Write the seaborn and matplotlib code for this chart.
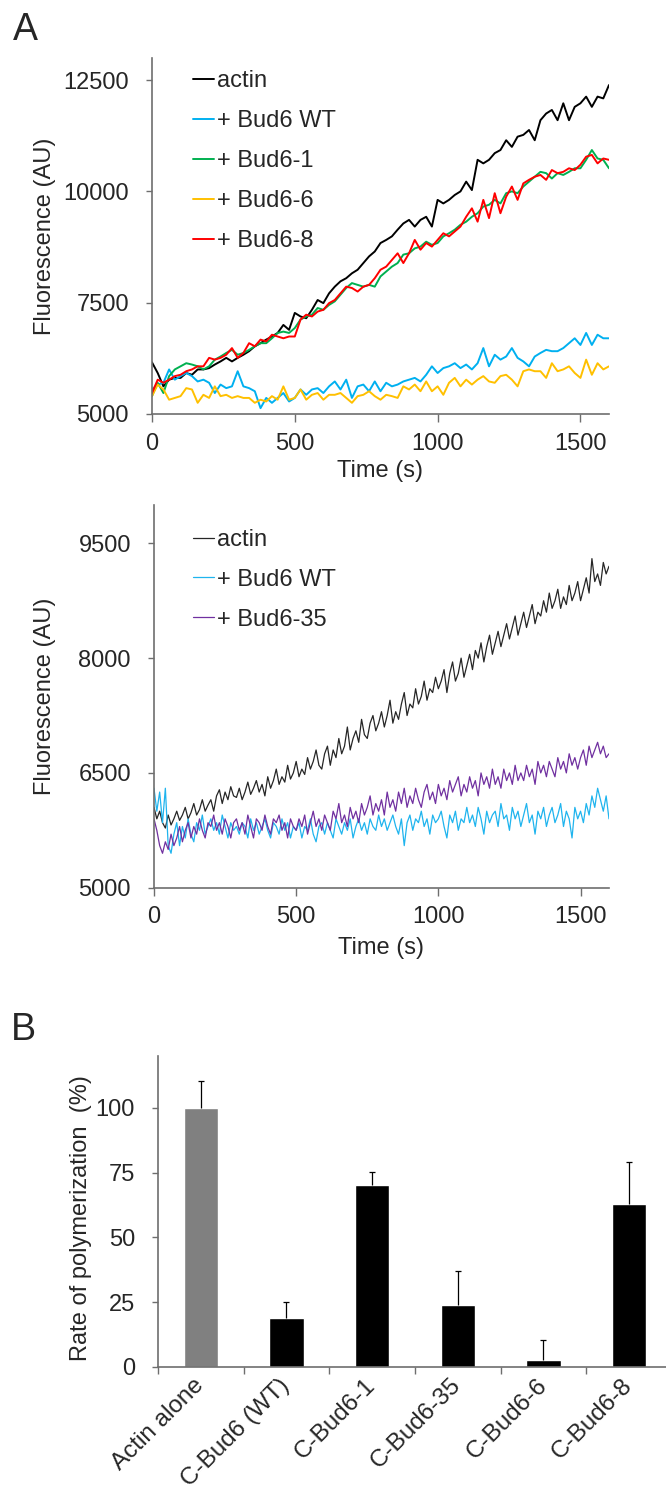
import numpy as np
import pandas as pd
import matplotlib
matplotlib.use('Agg')
import matplotlib.pyplot as plt
import seaborn as sns

# ---- Panel A (top): smoothed traces, one point every 20 s ----
time_a = np.arange(0, 1601, 20)
actin_a = [6160, 5920, 5620, 5770, 5810, 5810, 5920, 5880, 6000, 6000,
           6030, 6110, 6180, 6260, 6180, 6260, 6330, 6410, 6520, 6590,
           6670, 6740, 6820, 7000, 6890, 7270, 7190, 7150, 7340, 7560,
           7490, 7710, 7860, 7980, 8050, 8160, 8240, 8390, 8540, 8650,
           8840, 8910, 8990, 9140, 9280, 9360, 9210, 9360, 9430, 9210,
           9810, 9730, 9810, 9920, 10000, 10220, 10030, 10710, 10630, 10710,
           10860, 10930, 11150, 11000, 11230, 11270, 11380, 11150, 11600, 11750,
           11830, 11600, 11980, 11600, 11900, 11980, 12130, 11900, 12130, 12090,
           12390]
wt_a = [5550, 5660, 5700, 6000, 5770, 5850, 5920, 5850, 5730, 5770,
        5700, 5470, 5660, 5580, 5620, 5960, 5620, 5580, 5510, 5130,
        5360, 5250, 5360, 5470, 5280, 5360, 5550, 5430, 5550, 5580,
        5470, 5620, 5730, 5550, 5770, 5360, 5620, 5660, 5510, 5730,
        5510, 5700, 5620, 5660, 5730, 5770, 5810, 5730, 5880, 6070,
        5920, 6030, 6070, 6140, 6030, 6110, 6000, 6140, 6480, 6070,
        6330, 6220, 6290, 6480, 6260, 6180, 6070, 6290, 6370, 6440,
        6410, 6410, 6480, 6590, 6700, 6550, 6820, 6550, 6780, 6700,
        6700]
bud6_1_a = [5400, 5700, 5470, 5850, 6000, 6070, 6140, 6110, 6070, 6000,
            6070, 6220, 6290, 6370, 6440, 6330, 6370, 6440, 6520, 6590,
            6590, 6700, 6820, 6850, 6820, 6930, 7120, 7190, 7230, 7380,
            7340, 7450, 7530, 7680, 7830, 7940, 7900, 7860, 7900, 7860,
            8090, 8200, 8310, 8390, 8580, 8610, 8720, 8760, 8870, 8800,
            8840, 8990, 9060, 9140, 9250, 9320, 9430, 9510, 9660, 9700,
            9810, 9730, 9960, 10000, 9960, 10110, 10220, 10330, 10440, 10410,
            10290, 10410, 10370, 10440, 10520, 10520, 10710, 10930, 10740, 10710,
            10520]
bud6_6_a = [5400, 5660, 5550, 5320, 5360, 5400, 5580, 5550, 5250, 5430,
            5360, 5620, 5400, 5430, 5360, 5400, 5360, 5360, 5250, 5320,
            5280, 5400, 5320, 5620, 5320, 5360, 5550, 5320, 5430, 5470,
            5320, 5430, 5430, 5470, 5360, 5250, 5400, 5430, 5510, 5400,
            5320, 5430, 5400, 5360, 5620, 5550, 5660, 5510, 5730, 5510,
            5620, 5430, 5700, 5810, 5620, 5770, 5660, 5770, 5850, 5730,
            5700, 5850, 5880, 5770, 5620, 5960, 6000, 5960, 5960, 5810,
            6140, 5960, 6000, 6070, 5920, 5810, 6220, 5880, 6140, 6000,
            6070]
bud6_8_a = [5470, 5770, 5700, 5770, 5850, 5880, 5960, 6000, 6070, 6070,
            6260, 6220, 6260, 6330, 6480, 6260, 6370, 6590, 6520, 6670,
            6630, 6780, 6740, 6700, 6740, 6740, 7120, 7230, 7190, 7300,
            7340, 7490, 7560, 7710, 7860, 7830, 7750, 7860, 7900, 8050,
            8240, 8310, 8460, 8610, 8390, 8610, 8910, 8690, 8840, 8760,
            8910, 9060, 8990, 9100, 9210, 9430, 9620, 9320, 9810, 9400,
            9960, 9510, 9880, 10110, 9810, 10180, 10260, 10330, 10370, 10260,
            10480, 10410, 10440, 10520, 10480, 10600, 10780, 10820, 10630, 10740,
            10710]

# ---- Panel A (middle): raw traces, one point every 10 s ----
time_b = np.arange(0, 1601, 10)
actin_b = [6050, 5900, 6000, 5850, 5780, 5950, 5820, 5900, 6000, 5880,
           5950, 6050, 5900, 5980, 6100, 5950, 6020, 6150, 6000, 6080,
           6150, 6000, 6200, 6280, 6100, 6250, 6150, 6320, 6200, 6180,
           6300, 6150, 6250, 6380, 6220, 6300, 6400, 6250, 6350, 6200,
           6450, 6300, 6400, 6550, 6350, 6450, 6380, 6600, 6420, 6500,
           6650, 6450, 6550, 6480, 6700, 6550, 6650, 6800, 6600, 6550,
           6750, 6850, 6600, 6800, 6700, 6950, 6750, 6850, 7100, 6800,
           6950, 7050, 6900, 7200, 7000, 6950, 7150, 7250, 7050, 7150,
           7300, 7100, 7250, 7450, 7150, 7300, 7200, 7400, 7550, 7250,
           7400, 7350, 7600, 7400, 7500, 7700, 7450, 7600, 7550, 7750,
           7600, 7700, 7850, 7550, 7800, 7950, 7700, 7800, 8000, 7750,
           7900, 8050, 7850, 8100, 8000, 8200, 7950, 8150, 8300, 8050,
           8200, 8350, 8150, 8300, 8450, 8250, 8400, 8550, 8300, 8450,
           8600, 8400, 8550, 8700, 8450, 8600, 8550, 8750, 8600, 8850,
           8650, 8750, 8900, 8650, 8800, 8700, 8950, 8750, 8850, 9000,
           8750, 8900, 9050, 8850, 9300, 9000, 9100, 8950, 9250, 9100,
           9200]
wt_b = [6300, 6000, 6250, 5850, 6300, 5550, 5450, 5700, 5850, 5550,
        5800, 5650, 5900, 5700, 5600, 5850, 5750, 5950, 5700, 5800,
        5900, 5750, 5850, 5700, 5950, 5800, 5650, 5850, 5750, 5800,
        5700, 5850, 5800, 5650, 5900, 5750, 5850, 5700, 5800, 5900,
        5750, 5650, 5850, 5800, 5700, 5900, 5750, 5850, 5650, 5800,
        5750, 5850, 5650, 5800, 5750, 5900, 5700, 5600, 5800, 5850,
        5700, 5850, 5750, 5650, 5900, 5800, 5700, 5850, 5750, 5900,
        5650, 5800, 5900, 5750, 5850, 5700, 5900, 5800, 5750, 5950,
        5800, 5900, 5750, 5850, 5950, 5800, 5700, 5900, 5550, 5850,
        5950, 5750, 5900, 5850, 6000, 5800, 5900, 5700, 5950, 5850,
        5900, 6000, 5800, 5650, 5950, 5850, 6000, 5750, 5900, 5850,
        6050, 5850, 5950, 5800, 6050, 5900, 5700, 6000, 5850, 5950,
        6000, 5800, 6100, 5900, 5950, 5750, 6050, 5900, 6000, 5800,
        5950, 6100, 5850, 5950, 5700, 6000, 5900, 6050, 5800, 5950,
        6050, 5850, 5950, 6100, 5800, 6000, 5900, 5650, 6050, 5900,
        6000, 5850, 6100, 5950, 6200, 6050, 6300, 6150, 6000, 6200,
        5900]
bud6_35_b = [5900, 5750, 5550, 5450, 5600, 5500, 5700, 5550, 5650, 5800,
             5600, 5750, 5850, 5650, 5800, 5700, 5900, 5750, 5650, 5850,
             5800, 5950, 5750, 5850, 5700, 5900, 5800, 5650, 5850, 5900,
             5750, 5850, 5700, 5950, 5800, 5650, 5900, 5850, 5750, 5950,
             5800, 5700, 5900, 5850, 5950, 5750, 5850, 5650, 5900, 5800,
             5750, 5900, 5800, 5950, 5700, 5850, 6000, 5800, 5900, 5750,
             5950, 5850, 5750, 6000, 5900, 6100, 5850, 5950, 5800, 6050,
             5900, 6000, 5850, 6100, 5950, 6050, 6200, 5950, 6100, 6000,
             6150, 5950, 6250, 6050, 6150, 6000, 6250, 6100, 6300, 6050,
             6200, 6100, 6300, 6150, 6050, 6250, 6350, 6150, 6250, 6100,
             6350, 6200, 6300, 6150, 6400, 6250, 6350, 6450, 6200, 6350,
             6250, 6450, 6300, 6400, 6200, 6500, 6350, 6450, 6300, 6550,
             6350, 6450, 6300, 6550, 6400, 6500, 6350, 6600, 6400, 6500,
             6400, 6600, 6450, 6550, 6350, 6650, 6500, 6600, 6450, 6650,
             6550, 6450, 6700, 6550, 6650, 6500, 6750, 6600, 6700, 6550,
             6700, 6800, 6600, 6850, 6700, 6800, 6900, 6750, 6850, 6700,
             6750]

# ---- Panel B: bar chart ----
categories = ['Actin alone', 'C-Bud6 (WT)', 'C-Bud6-1', 'C-Bud6-35', 'C-Bud6-6', 'C-Bud6-8']
rates = [100, 19, 70, 24, 2.5, 63]
rate_err = [10.5, 5.9, 5.1, 12.9, 8.0, 16.0]

labels_a = ['actin', '+ Bud6 WT', '+ Bud6-1', '+ Bud6-6', '+ Bud6-8']
colors_a = ['#000000', '#00b0f0', '#00b050', '#ffc000', '#ff0000']
labels_b = ['actin', '+ Bud6 WT', '+ Bud6-35']
colors_b = ['#262626', '#1fb4ee', '#7030a0']
bar_colors = ['#808080', '#000000', '#000000', '#000000', '#000000', '#000000']

sns.set_style('ticks')
plt.rcParams['font.family'] = ['Liberation Sans', 'DejaVu Sans']
axis_gray = '#6e6e6e'
FS = 17

df_a = pd.concat([pd.DataFrame({'t': time_a, 'f': vals, 'series': name})
                  for name, vals in zip(labels_a, [actin_a, wt_a, bud6_1_a, bud6_6_a, bud6_8_a])])
df_b = pd.concat([pd.DataFrame({'t': time_b, 'f': vals, 'series': name})
                  for name, vals in zip(labels_b, [actin_b, wt_b, bud6_35_b])])

fig = plt.figure(figsize=(6.66, 14.96), dpi=100)
ax1 = fig.add_axes([0.2282, 0.7233, 0.6862, 0.238])
ax2 = fig.add_axes([0.2312, 0.4066, 0.6832, 0.2558])
ax3 = fig.add_axes([0.2372, 0.0864, 0.7718, 0.2077])


def style_axis(ax):
    sns.despine(ax=ax)
    for s in ['left', 'bottom']:
        ax.spines[s].set_color(axis_gray)
        ax.spines[s].set_linewidth(1.2)
    ax.tick_params(axis='y', length=4.6, width=1, color=axis_gray, pad=12, labelsize=FS)
    ax.tick_params(axis='x', length=6, width=1, color=axis_gray, pad=7.5, labelsize=FS)


# top line chart
sns.lineplot(data=df_a, x='t', y='f', hue='series', hue_order=labels_a,
             palette=dict(zip(labels_a, colors_a)), linewidth=1.4,
             estimator=None, ax=ax1)
ax1.set_xlim(0, 1600)
ax1.set_ylim(5000, 13000)
ax1.set_xticks([0, 500, 1000, 1500])
ax1.set_yticks([5000, 7500, 10000, 12500])
ax1.set_xlabel('Time (s)', fontsize=FS)
ax1.set_ylabel('Fluorescence (AU)', fontsize=FS)
ax1.xaxis.set_label_coords(0.5, -0.129)
ax1.yaxis.set_label_coords(-0.21, 0.5)
style_axis(ax1)
sns.move_legend(ax1, 'upper left', bbox_to_anchor=(0.09, 0.966), frameon=False,
                title=None, fontsize=FS, handlelength=0.9, handletextpad=0.1,
                labelspacing=0.76, borderpad=0, borderaxespad=0)

# middle line chart
sns.lineplot(data=df_b, x='t', y='f', hue='series', hue_order=labels_b,
             palette=dict(zip(labels_b, colors_b)), linewidth=0.9,
             estimator=None, ax=ax2)
ax2.set_xlim(0, 1600)
ax2.set_ylim(5000, 10000)
ax2.set_xticks([0, 500, 1000, 1500])
ax2.set_yticks([5000, 6500, 8000, 9500])
ax2.set_xlabel('Time (s)', fontsize=FS)
ax2.set_ylabel('Fluorescence (AU)', fontsize=FS)
ax2.xaxis.set_label_coords(0.5, -0.129)
ax2.yaxis.set_label_coords(-0.215, 0.5)
style_axis(ax2)
sns.move_legend(ax2, 'upper left', bbox_to_anchor=(0.086, 0.938), frameon=False,
                title=None, fontsize=FS, handlelength=0.9, handletextpad=0.1,
                labelspacing=0.76, borderpad=0, borderaxespad=0)

# bar chart
sns.barplot(x=categories, y=rates, hue=categories, palette=bar_colors,
            width=0.4, legend=False, saturation=1, ax=ax3)
eb = ax3.errorbar(range(len(categories)), rates, yerr=[[0] * len(rates), rate_err],
                  fmt='none', ecolor='black', elinewidth=0.9, capsize=2.5, capthick=0.9)
eb.lines[1][0].set_visible(False)   # only the upper cap
ax3.set_xlim(-0.5, len(categories) - 0.5)
ax3.set_ylim(0, 120)
ax3.set_yticks([0, 25, 50, 75, 100])
ax3.set_ylabel('Rate of polymerization  (%)', fontsize=FS)
ax3.yaxis.set_label_coords(-0.128, 0.48)
style_axis(ax3)
ax3.set_xticks(np.arange(-0.5, len(categories), 1.0), minor=True)
ax3.tick_params(axis='x', which='minor', length=5, width=1, color=axis_gray)
ax3.tick_params(axis='x', which='major', length=0, pad=11)
ax3.set_xticks(range(len(categories)))
ax3.set_xticklabels(categories, rotation=45, ha='right', va='center',
                    rotation_mode='anchor', fontsize=17.5)

fig.text(13 / 666, 1 - 40 / 1496, 'A', fontsize=27, va='baseline', ha='left')
fig.text(11 / 666, 1 - 1040 / 1496, 'B', fontsize=27, va='baseline', ha='left')

fig.savefig('out.png', dpi=100)
